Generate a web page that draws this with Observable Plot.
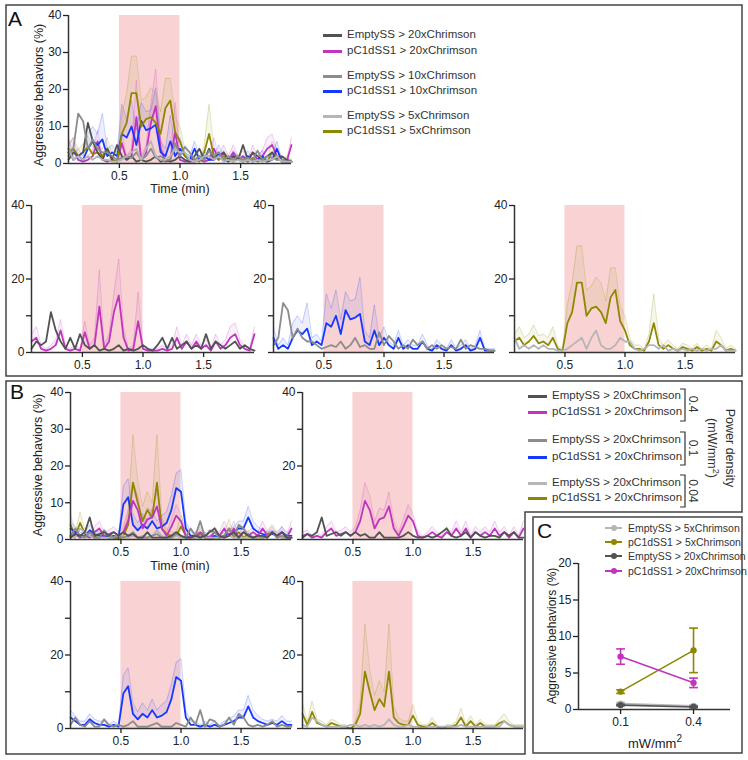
<!DOCTYPE html>
<html><head><meta charset="utf-8">
<script src="https://cdn.jsdelivr.net/npm/d3@7"></script>
<script src="https://cdn.jsdelivr.net/npm/@observablehq/plot@0.6"></script>
<style>
html,body{margin:0;padding:0;background:#fff;}
#fig{position:relative;width:748px;height:760px;overflow:hidden;font-family:"Liberation Sans",Arial,Helvetica,sans-serif;color:#222;}
#fig svg{position:absolute;}
.t{position:absolute;white-space:nowrap;line-height:1;}
.sw{position:absolute;height:3px;}
.dot{position:absolute;width:6px;height:6px;border-radius:50%;}
</style></head>
<body><div id="fig"></div>
<script>
// ---------------- data ----------------
const time = [0.08,0.12,0.16,0.20,0.24,0.28,0.32,0.36,0.40,0.44,
  0.48,0.52,0.56,0.60,0.64,0.68,0.72,0.76,0.80,0.84,
  0.88,0.92,0.96,1.00,1.04,1.08,1.12,1.16,1.20,1.24,
  1.28,1.32,1.36,1.40,1.44,1.48,1.52,1.56,1.60,1.64,
  1.68,1.72,1.76,1.80,1.84,1.88,1.92];
const stim = [{start: 0.5, end: 1.0}];
const xTicks = [0.5, 1.0, 1.5];
const yTicks = [0, 10, 20, 30, 40];

// Panel A (red light, different Chrimson doses)
const a_empty20 = [1,3,2,3,11,6,3,1,4,1, 5,2,1,2,0.5,1,0.5,1,2,0.5, 1,0.5,1,2,1,0.5,2,4,1,4, 1,2,3,1,2,1,5,1,3,2, 1,2,3,1,2,1,0.5];
const a_pc1_20 = [3,4,1,0.5,1,2,6,1,0.5,1, 0.5,5.5,1,2,12.5,1,3,11,15.5,4, 0.5,1,8.5,1,0.5,0.5,0.5,1,0.5,1, 4,1,3,1,3,1,2,0.5,3,1, 2,4,5,2,1,0.5,5];
const a_pc1_20_sem = [2,3,1,0.5,1,1.5,3,1,0.5,1, 0.5,3,1,2,10,1,2,5,10,3, 0.5,1,8,1,0.5,0.5,0.5,1,0.5,1, 3,1,2,1,2,1,1.5,0.5,2,1, 1.5,3,3,1.5,1,0.5,2];
const a_empty10 = [2,4,13.5,11.5,4,6.5,4,3,3,2, 1,1.5,2,1.5,3,1,2,4,1.5,2, 1,1,5.5,2,4.5,3,1,2,1,3.5, 2,3,1,2,1,2,1,1.5,1,3.5, 1,2,1.5,1,1,0.5,0.5];
const a_pc1_10 = [4,1,2,1,4,6,5,6.5,2,3, 2,8,7,10,5,11.5,9,9.5,10.5,3, 2,6,2,4,2,1,4,1,2,1, 1,3,1,0.5,2,1,0.5,2,0.5,1, 2,0.5,1,4,0.5,0.5,0.5];
const a_pc1_10_sem = [3,1,2,1,4,4,3,7,2,2, 1,8,5,7,4,5,5,5,10,3, 2,7,2,3,1,1,2,1,1.5,1, 1,2,1,0.5,1.5,1,0.5,1.5,0.5,1, 1.5,0.5,1,2,0.5,0.5,0.5];
const a_empty5 = [4,1,2,1,2,1,2,1,1,0.5, 0.5,1,2,3,4,1,4,6,2,1, 1,2,4,3,3,1,0.5,1,2,2, 1,2,0.5,1,0.5,1,0.5,1,0.5,1, 0.5,1,1,2,0.5,0.5,0.5];
const a_pc1_5 = [3,4,2,3,4.5,2.5,3,2,4,1, 0.5,8,11,19,19,10,12,12.5,11,8, 15,17,8.5,6,2,1,1,0.5,3,8, 2,1,2,1,0.5,1.5,1,0.5,1.5,0.5, 1,0.5,3,2,0.5,1,0.5];
const a_pc1_5_sem = [2,3,2,2,3,2,2,2,3,1, 0.5,5,8,10,10,7,6,8,8,6, 8,6,4,4,2,1,1,0.5,2,8, 2,1,1.5,1,0.5,1,1,0.5,1,0.5, 1,0.5,3,2,0.5,1,0.5];

// Panel B (20xChrimson, different power densities)
const b_empty_04 = [0.5,1.5,1,2,6,1,1.5,2,1,2, 1,2,1,1.5,0.5,0.5,2,0.5,0.5,0.5, 0.5,1,2,1,0.5,0.5,1,0.5,1,2, 3,1,0.5,1,2,0.5,2,1,0.5,1, 1,0.5,2,1,2,0.5,0.5];
const b_pc1_04 = [1,1.5,0.5,1,0.5,2,3,1,1.5,2, 1,2,5,10.5,8,3,5.5,6,9,3, 1,3.5,6.5,5,1,0.5,1,2,1,0.5, 2,1,3,1,3,0.5,2,1,2,1, 3,1,2,0.5,2,0.5,3];
const b_pc1_04_sem = [1,1,0.5,1,0.5,1.5,2,1,1,1.5, 1,1.5,3,5,4,2,3,2,4,2, 1,2,3,2,1,0.5,1,1.5,1,0.5, 1.5,1,2,1,2,0.5,1.5,1,1.5,1, 2,1,1.5,0.5,1.5,0.5,2];
const b_empty_01 = [1,3,1,0.5,2,0.5,0.5,2.5,1,0.5, 1,0.5,1,2,0.5,0.5,0.5,1,1.5,0.5, 0.5,0.5,1.5,1,0.5,3,1,5,0.5,2.5, 2,0.5,1,3,1,4,3,1,0.5,1, 0.5,1,2,0.5,1,0.5,0.5];
const b_pc1_01 = [3,2,1,1,2.5,1.5,1,1,0.5,1, 0.5,9.5,11.5,4,2.5,4,3,5,3,3.5, 4.5,8,14,13,3,1,1,0.5,1,0.5, 1,0.5,1,1.5,2,3,3,6,3,2, 1.5,1,1.5,1,2,1,1];
const b_pc1_01_sem = [2,1.5,1,1,1.5,1,1,1,0.5,1, 0.5,5,5,3,2,3,2,3,2,3, 3,4,4,6,2,1,1,0.5,1,0.5, 1,0.5,1,1,1.5,2,2,3,2,1.5, 1,1,1,1,1.5,1,1];
const b_empty_004 = [1,0.5,3,2,1,0.5,0.5,0.5,0.5,0.5, 1,1,0.5,1,0.5,1,0.5,1,2.5,1, 0.5,0.5,1,0.5,0.5,0,0.5,0.5,0.5,0.5, 0.5,0.5,0.5,1,0.5,0.5,0.5,0.5,0.5,0.5, 0.5,0.5,2,1,0.5,0.5,0.5];
const b_pc1_004 = [4,1,4.5,1.5,1,0.5,1.5,1,0.5,0.5, 0,1,4,15.5,10,5,8,6,15.5,3, 1.5,1,1,3.5,1,0.5,0.5,1.5,0.5,0, 0.5,0.5,1,3,0.5,2,0.5,1.5,0.5,0.5, 0.5,1.5,2,1,0.5,0.5,0.5];
const b_pc1_004_sem = [3,1,3,1,1,0.5,1,1,0.5,0.5, 0,1,3,13,6,4,5,4,13,3, 1.5,1,1,3,1,0.5,0.5,1.5,0.5,0, 0.5,0.5,1,2.5,0.5,1.5,0.5,1,0.5,0.5, 0.5,1,2,1,0.5,0.5,0.5];

// Panel C (summary)
const cPower = [0.1, 0.4];
const cEmpty5 = [0.8, 0.5],  cEmpty5Err = [0.15, 0.1];
const cPc1_5 = [2.45, 8.1],  cPc1_5Err = [0.25, 3.05];
const cEmpty20 = [0.6, 0.35], cEmpty20Err = [0.1, 0.1];
const cPc1_20 = [7.25, 3.65], cPc1_20Err = [1.05, 0.65];

const legendA = ["EmptySS > 20xChrimson","pC1dSS1 > 20xChrimson","EmptySS > 10xChrimson","pC1dSS1 > 10xChrimson","EmptySS > 5xChrimson","pC1dSS1 > 5xChrimson"];
const legendB = ["EmptySS > 20xChrimson","pC1dSS1 > 20xChrimson","EmptySS > 20xChrimson","pC1dSS1 > 20xChrimson","EmptySS > 20xChrimson","pC1dSS1 > 20xChrimson"];
const powerLabels = ["0.4", "0.1", "0.04"];
const legendC = ["EmptySS > 5xChrimson","pC1dSS1 > 5xChrimson","EmptySS > 20xChrimson","pC1dSS1 > 20xChrimson"];

// ---------------- style ----------------
const COL = {dark:"#525252", magenta:"#c034c0", gray:"#8c8c8c", blue:"#1438ff", light:"#b6b6b6", olive:"#8e8700"};
const FONT = '"Liberation Sans", Arial, Helvetica, sans-serif';
const fig = document.getElementById("fig");

function rows(mean, sem) { return time.map((t, i) => ({t, y: mean[i], hi: sem ? mean[i] + sem[i] : mean[i]})); }

function tsPlot({x0, x1, yTop, yBot, series, yLabeled}) {
  const mL = 40, mR = 4, mT = 8, mB = 24;
  const svg = Plot.plot({
    width: Math.round(x1 - x0 + mL + mR), height: Math.round(yBot - yTop + mT + mB),
    marginLeft: mL, marginRight: mR, marginTop: mT, marginBottom: mB,
    x: {domain: [time[0], time[time.length - 1]]},
    y: {domain: [0, 40]},
    style: {fontFamily: FONT, fontSize: "12px", color: "#222", background: "transparent", overflow: "visible"},
    marks: [
      Plot.rect(stim, {x1: "start", x2: "end", y1: 0, y2: 40, fill: "#f9d3d3"}),
      ...series.filter(s => s.sem).map(s => Plot.areaY(rows(s.mean, s.sem), {x: "t", y1: "y", y2: "hi", fill: s.color, fillOpacity: 0.08})),
      ...series.filter(s => s.sem).map(s => Plot.lineY(rows(s.mean, s.sem), {x: "t", y: "hi", stroke: s.color, strokeOpacity: 0.22, strokeWidth: 1})),
      ...series.map(s => Plot.lineY(rows(s.mean), {x: "t", y: "y", stroke: s.color, strokeWidth: 1.8})),
      Plot.ruleY([0], {stroke: "#333", strokeWidth: 1.5}),
      Plot.ruleX([time[0]], {y1: 0, y2: 40, stroke: "#333", strokeWidth: 1.5}),
      Plot.axisY({ticks: yTicks, tickSize: 5, tickPadding: 2, strokeWidth: 1.3, tickFormat: d => yLabeled.includes(d) ? String(d) : "", label: null}),
      Plot.axisX({ticks: xTicks, tickSize: 5, tickPadding: 3, strokeWidth: 1.3, tickFormat: d => d.toFixed(1), label: null})
    ]
  });
  svg.style.left = Math.round(x0 - mL) + "px";
  svg.style.top = Math.round(yTop - mT) + "px";
  fig.appendChild(svg);
}

function label(str, x, y, {size = 12, anchor = "left", rot = 0, color = "#222", html = false} = {}) {
  const d = document.createElement("div");
  d.className = "t";
  if (html) d.innerHTML = str; else d.textContent = str;
  d.style.left = x + "px"; d.style.top = y + "px";
  d.style.fontSize = size + "px"; d.style.color = color;
  const tx = anchor === "left" ? "0" : "-50%";
  d.style.transform = `translate(${tx},-50%)` + (rot ? ` rotate(${rot}deg)` : "");
  fig.appendChild(d);
  return d;
}

// ---------------- boxes ----------------
const deco = d3.create("svg").attr("width", 748).attr("height", 760).style("left", "0px").style("top", "0px");
deco.append("rect").attr("x", 6).attr("y", 5).attr("width", 736).attr("height", 371).attr("fill", "none").attr("stroke", "#444").attr("stroke-width", 1.5);
deco.append("path").attr("d", "M6,381H742V512H525V754H6Z").attr("fill", "none").attr("stroke", "#444").attr("stroke-width", 1.5);
deco.append("rect").attr("x", 533).attr("y", 517).attr("width", 209).attr("height", 236).attr("fill", "none").attr("stroke", "#444").attr("stroke-width", 1.5);
[[389, 421], [432, 465], [475, 507]].forEach(([a, b]) => {
  deco.append("path").attr("d", `M680,${a}H685V${b}H680`).attr("fill", "none").attr("stroke", "#333").attr("stroke-width", 1.2);
});
fig.appendChild(deco.node());

// ---------------- panel A ----------------
const sA = {
  e20: {mean: a_empty20, color: COL.dark},
  p20: {mean: a_pc1_20, sem: a_pc1_20_sem, color: COL.magenta},
  e10: {mean: a_empty10, color: COL.gray},
  p10: {mean: a_pc1_10, sem: a_pc1_10_sem, color: COL.blue},
  e5: {mean: a_empty5, color: COL.light},
  p5: {mean: a_pc1_5, sem: a_pc1_5_sem, color: COL.olive}
};
tsPlot({x0: 68, x1: 291, yTop: 15, yBot: 163, series: [sA.p20, sA.p10, sA.p5, sA.e20, sA.e10, sA.e5], yLabeled: [0, 10, 20, 30, 40]});
tsPlot({x0: 31.3, x1: 254.7, yTop: 205, yBot: 352, series: [sA.p20, sA.e20], yLabeled: [0, 20, 40]});
tsPlot({x0: 273.3, x1: 494.5, yTop: 205, yBot: 352, series: [sA.p10, sA.e10], yLabeled: [20, 40]});
tsPlot({x0: 514.3, x1: 735.5, yTop: 205, yBot: 352, series: [sA.p5, sA.e5], yLabeled: [20, 40]});

label("A", 8, 18, {size: 21, color: "#111"});
label("Aggressive behaviors (%)", 39, 95, {size: 12.5, anchor: "center", rot: -90});
label("Time (min)", 180, 189, {size: 12.5, anchor: "center"});

const colA = [COL.dark, COL.magenta, COL.gray, COL.blue, COL.light, COL.olive];
const rowA = [35, 51, 76, 91, 116, 131];
legendA.forEach((txt, i) => {
  const s = document.createElement("div"); s.className = "sw";
  s.style.left = "323px"; s.style.width = "19px"; s.style.top = (rowA[i] - 1.5) + "px"; s.style.background = colA[i];
  fig.appendChild(s);
  label(txt, 347, rowA[i], {size: 11.5, color: "#333"});
});

// ---------------- panel B ----------------
const sB = {
  e04: {mean: b_empty_04, color: COL.dark},
  p04: {mean: b_pc1_04, sem: b_pc1_04_sem, color: COL.magenta},
  e01: {mean: b_empty_01, color: COL.gray},
  p01: {mean: b_pc1_01, sem: b_pc1_01_sem, color: COL.blue},
  e004: {mean: b_empty_004, color: COL.light},
  p004: {mean: b_pc1_004, sem: b_pc1_004_sem, color: COL.olive}
};
tsPlot({x0: 70, x1: 291, yTop: 392, yBot: 539, series: [sB.p004, sB.p01, sB.p04, sB.e004, sB.e01, sB.e04], yLabeled: [0, 10, 20, 30, 40]});
tsPlot({x0: 302, x1: 523, yTop: 392, yBot: 539, series: [sB.p04, sB.e04], yLabeled: [20, 40]});
tsPlot({x0: 70, x1: 291, yTop: 581, yBot: 728, series: [sB.p01, sB.e01], yLabeled: [0, 20, 40]});
tsPlot({x0: 302, x1: 523, yTop: 581, yBot: 728, series: [sB.p004, sB.e004], yLabeled: [20, 40]});

label("B", 10, 391, {size: 21, color: "#111"});
label("Aggressive behaviors (%)", 38, 465, {size: 12.5, anchor: "center", rot: -90});
label("Time (min)", 180, 566, {size: 12.5, anchor: "center"});

const rowB = [396, 412, 440, 457, 483, 498];
legendB.forEach((txt, i) => {
  const s = document.createElement("div"); s.className = "sw";
  s.style.left = "528px"; s.style.width = "19px"; s.style.top = (rowB[i] - 1.5) + "px"; s.style.background = colA[i];
  fig.appendChild(s);
  label(txt, 552, rowB[i], {size: 11.5, color: "#333"});
});
[404, 448, 491].forEach((y, i) => label(powerLabels[i], 693, y, {size: 12, anchor: "center", rot: 90, color: "#333"}));
label("Power density", 730, 448, {size: 12.5, anchor: "center", rot: 90, color: "#333"});
label("(mW/mm<sup style='font-size:9px'>2</sup>)", 713, 448, {size: 12.5, anchor: "center", rot: 90, color: "#333", html: true});

// ---------------- panel C ----------------
const cSeries = [
  {mean: cEmpty5, err: cEmpty5Err, color: COL.light},
  {mean: cEmpty20, err: cEmpty20Err, color: COL.dark},
  {mean: cPc1_5, err: cPc1_5Err, color: COL.olive},
  {mean: cPc1_20, err: cPc1_20Err, color: COL.magenta}
];
const cxDomain = [-0.073, 0.552];
const cap = 0.018;
const cMarks = [Plot.ruleY([0], {stroke: "#333", strokeWidth: 1.5}), Plot.ruleX([cxDomain[0]], {y1: 0, y2: 20, stroke: "#333", strokeWidth: 1.5})];
cSeries.forEach(s => {
  const d = cPower.map((p, i) => ({x: p, y: s.mean[i], lo: s.mean[i] - s.err[i], hi: s.mean[i] + s.err[i]}));
  cMarks.push(
    Plot.line(d, {x: "x", y: "y", stroke: s.color, strokeWidth: 1.6}),
    Plot.ruleX(d, {x: "x", y1: "lo", y2: "hi", stroke: s.color, strokeWidth: 1.6}),
    Plot.link(d, {x1: q => q.x - cap, x2: q => q.x + cap, y1: "hi", y2: "hi", stroke: s.color, strokeWidth: 1.6}),
    Plot.link(d, {x1: q => q.x - cap, x2: q => q.x + cap, y1: "lo", y2: "lo", stroke: s.color, strokeWidth: 1.6}),
    Plot.dot(d, {x: "x", y: "y", r: 3.2, fill: s.color, stroke: "none"})
  );
});
cMarks.push(
  Plot.axisY({ticks: [0, 5, 10, 15, 20], tickSize: 5, tickPadding: 2, strokeWidth: 1.3, label: null}),
  Plot.axisX({ticks: cPower, tickSize: 5, tickPadding: 3, strokeWidth: 1.3, tickFormat: d => d.toFixed(1), label: null})
);
const cSvg = Plot.plot({
  width: 197, height: 176, marginLeft: 40, marginRight: 5, marginTop: 8, marginBottom: 22,
  x: {domain: cxDomain}, y: {domain: [0, 20]},
  style: {fontFamily: FONT, fontSize: "12px", color: "#222", background: "transparent", overflow: "visible"},
  marks: cMarks
});
cSvg.style.left = "538px"; cSvg.style.top = "555px";
fig.appendChild(cSvg);

label("C", 537, 530, {size: 21, color: "#111"});
label("Aggressive behaviors (%)", 552, 636, {size: 12, anchor: "center", rot: -90});
label("mW/mm<sup style='font-size:10px'>2</sup>", 655, 742, {size: 13, anchor: "center", html: true});
const colC = [COL.light, COL.olive, COL.dark, COL.magenta];
const rowC = [528, 542, 556, 571];
legendC.forEach((txt, i) => {
  const s = document.createElement("div"); s.className = "sw";
  s.style.left = "605px"; s.style.width = "17px"; s.style.height = "2px"; s.style.top = (rowC[i] - 1) + "px"; s.style.background = colC[i];
  fig.appendChild(s);
  const dt = document.createElement("div"); dt.className = "dot";
  dt.style.left = "610.5px"; dt.style.top = (rowC[i] - 3) + "px"; dt.style.background = colC[i];
  fig.appendChild(dt);
  label(txt, 628, rowC[i], {size: 10.5, color: "#333"});
});
</script></body></html>
